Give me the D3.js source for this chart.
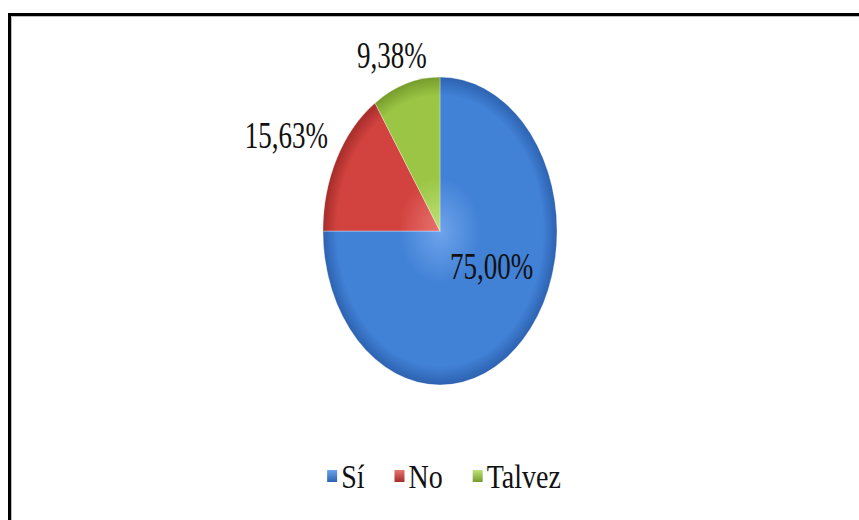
<!DOCTYPE html>
<html>
<head>
<meta charset="utf-8">
<script src="https://cdn.jsdelivr.net/npm/d3@7"></script>
<style>
  body { margin: 0; background: #fff; }
  svg { display: block; }
</style>
</head>
<body>
<svg id="chart"></svg>
<script>
const width = 859;
const height = 520;

// data
const categories = ['Sí', 'No', 'Talvez'];
const values = [75.00, 15.63, 9.38];
const labels = ['75,00%', '15,63%', '9,38%'];

const colors = ['#4181d6', '#d2433f', '#9bc645'];
const lighter = ['#6ea3ea', '#e87470', '#bde277'];
const darker = ['#2d62b0', '#a52c2a', '#769c2c'];

// label placement (radius factor, angle nudge in degrees)
const labelRadius = [0.5, 1.45, 1.21];
const labelNudge = [-17, -3, -3];

const cx = 440, cy = 231;
const rx = 117, ry = 154;
const stretch = ry / rx;

const svg = d3.select('#chart').attr('width', width).attr('height', height);

// frame
svg.append('path')
  .attr('d', `M9.5,520 V14.5 H859`)
  .attr('fill', 'none')
  .attr('stroke', '#000')
  .attr('stroke-width', 3);
svg.append('path')
  .attr('d', `M11.5,520 V16.5 H859`)
  .attr('fill', 'none')
  .attr('stroke', '#bbb')
  .attr('stroke-width', 1);

const defs = svg.append('defs');
colors.forEach((c, i) => {
  const g = defs.append('radialGradient')
    .attr('id', 'grad' + i)
    .attr('gradientUnits', 'userSpaceOnUse')
    .attr('cx', 0).attr('cy', 0).attr('r', rx);
  g.append('stop').attr('offset', '0%').attr('stop-color', lighter[i]);
  g.append('stop').attr('offset', '35%').attr('stop-color', c);
  g.append('stop').attr('offset', '88%').attr('stop-color', c);
  g.append('stop').attr('offset', '100%').attr('stop-color', darker[i]);
});

const pie = d3.pie().sort(null).value(d => d);
const arcs = pie(values);
const arc = d3.arc().innerRadius(0).outerRadius(rx);

const pieG = svg.append('g')
  .attr('transform', `translate(${cx},${cy}) scale(1,${stretch})`);

pieG.selectAll('path')
  .data(arcs)
  .enter()
  .append('path')
  .attr('d', arc)
  .attr('fill', (d, i) => `url(#grad${i})`)
  .attr('stroke', 'rgba(255,255,255,0.35)')
  .attr('stroke-width', 0.8);

// data labels
svg.selectAll('.label')
  .data(arcs)
  .enter()
  .append('text')
  .attr('class', 'label')
  .attr('transform', (d, i) => {
    const a = (d.startAngle + d.endAngle) / 2 + labelNudge[i] * Math.PI / 180;
    const x = cx + Math.sin(a) * labelRadius[i] * rx;
    const y = cy - Math.cos(a) * labelRadius[i] * ry;
    return `translate(${x},${y}) scale(1,1.37)`;
  })
  .attr('text-anchor', 'middle')
  .attr('dy', '0.33em')
  .attr('font-family', '"Liberation Serif", "Times New Roman", serif')
  .attr('font-size', 27)
  .attr('fill', '#111')
  .text((d, i) => labels[i]);

// legend
colors.forEach((c, i) => {
  const g = defs.append('linearGradient')
    .attr('id', 'lg' + i)
    .attr('x1', 0).attr('y1', 0).attr('x2', 0).attr('y2', 1);
  g.append('stop').attr('offset', '0%').attr('stop-color', lighter[i]);
  g.append('stop').attr('offset', '100%').attr('stop-color', darker[i]);
});

const legend = svg.append('g');
const items = legend.selectAll('g')
  .data(categories)
  .enter()
  .append('g');

items.append('rect')
  .attr('width', 10)
  .attr('height', 12)
  .attr('y', -18)
  .attr('fill', (d, i) => `url(#lg${i})`);

items.append('text')
  .attr('x', 14)
  .attr('transform', 'scale(1,1.2)')
  .attr('font-family', '"Liberation Serif", "Times New Roman", serif')
  .attr('font-size', 28)
  .attr('fill', '#111')
  .text(d => d);

let offset = 0;
const widths = [];
items.each(function () {
  const w = d3.select(this).select('text').node().getComputedTextLength() + 14;
  widths.push(w);
});
const gap = 30;
const total = d3.sum(widths) + gap * (widths.length - 1);
items.attr('transform', (d, i) => {
  const x = offset;
  offset += widths[i] + gap;
  return `translate(${x},0)`;
});
legend.attr('transform', `translate(${444 - total / 2},488)`);
</script>
</body>
</html>
